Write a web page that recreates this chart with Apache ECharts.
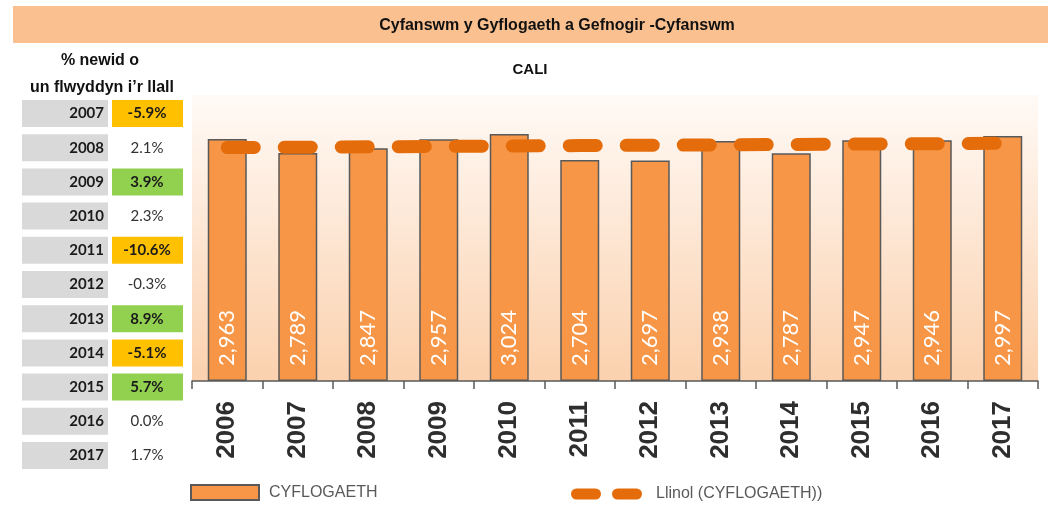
<!DOCTYPE html>
<html>
<head>
<meta charset="utf-8">
<script src="https://cdn.jsdelivr.net/npm/echarts@6/dist/echarts.min.js"></script>
<style>
    html, body { margin: 0; padding: 0; background: #fff; }
    #chart { width: 1048px; height: 505px; }
</style>
</head>
<body>
<div id="chart"></div>
<script>
// blynyddoedd a gwerthoedd y siart
var years = ['2006', '2007', '2008', '2009', '2010', '2011', '2012', '2013', '2014', '2015', '2016', '2017'];
var cyflogaeth = [2963, 2789, 2847, 2957, 3024, 2704, 2697, 2938, 2787, 2947, 2946, 2997];
// llinell duedd fel y'i darllenwyd o'r llun
var llinol = [2857, 2861, 2866, 2871, 2876, 2881, 2885, 2890, 2895, 2900, 2904, 2909];
// tabl newid canrannol
var tableYears = ['2007', '2008', '2009', '2010', '2011', '2012', '2013', '2014', '2015', '2016', '2017'];
var tablePct = [-5.9, 2.1, 3.9, 2.3, -10.6, -0.3, 8.9, -5.1, 5.7, 0.0, 1.7];

var chart = echarts.init(document.getElementById('chart'));

var fmtNum = function(v) {
    return String(v).replace(/\B(?=(\d{3})+(?!\d))/g, ',');
};

var buildTable = function() {
    var els = [];
    var top = 100, pitch = 34.2, h = 27;
    for (var i = 0; i < tableYears.length; i++) {
        var y = top + i * pitch;
        var v = tablePct[i];
        var fill = null;
        if (v <= -5) fill = '#FFC000';
        else if (v >= 3) fill = '#92D050';
        els.push({
            type: 'rect',
            shape: { x: 22, y: y, width: 86, height: h },
            style: { fill: '#D9D9D9' }
        });
        els.push({
            type: 'text',
            x: 104, y: y + h / 2,
            style: {
                text: tableYears[i], fill: '#1a1a1a',
                font: 'bold 15px Lato', align: 'right', verticalAlign: 'middle'
            }
        });
        if (fill) {
            els.push({
                type: 'rect',
                shape: { x: 112, y: y, width: 71, height: h },
                style: { fill: fill }
            });
        }
        els.push({
            type: 'text',
            x: 147, y: y + h / 2,
            style: {
                text: v.toFixed(1) + '%', fill: fill ? '#1a1a1a' : '#333',
                font: (fill ? 'bold ' : '') + '15px Lato', align: 'center', verticalAlign: 'middle'
            }
        });
    }
    return els;
};

var graphics = [{
    type: 'rect',
    z: -10,
    shape: { x: 13, y: 6, width: 1035, height: 37 },
    style: { fill: '#FAC090' }
}, {
    type: 'text',
    x: 100, y: 61,
    style: { text: '% newid o', font: 'bold 16px "Liberation Sans"', fill: '#111', align: 'center', verticalAlign: 'middle' }
}, {
    type: 'text',
    x: 102, y: 88,
    style: { text: 'un flwyddyn i\u2019r llall', font: 'bold 16px "Liberation Sans"', fill: '#111', align: 'center', verticalAlign: 'middle' }
}].concat(buildTable());

var option = {
    animation: false,
    title: [{
        text: 'Cyfanswm y Gyflogaeth a Gefnogir -Cyfanswm',
        left: 557, top: 18, textAlign: 'center', padding: 0,
        textStyle: { fontFamily: 'Liberation Sans', fontSize: 16, fontWeight: 'bold', color: '#111' }
    }, {
        text: 'CALI',
        left: 530, top: 62, textAlign: 'center', padding: 0,
        textStyle: { fontFamily: 'Liberation Sans', fontSize: 15, fontWeight: 'bold', color: '#111' }
    }],
    graphic: graphics,
    legend: [{
        left: 190, top: 484, padding: 0,
        data: [{ name: 'CYFLOGAETH', icon: 'rect' }],
        itemWidth: 68, itemHeight: 15,
        textStyle: { fontFamily: 'Liberation Sans', fontSize: 16, color: '#595959', padding: [0, 0, 0, 5] }
    }, {
        left: 571, top: 486, padding: 0,
        data: [{
            name: 'Llinol (CYFLOGAETH))',
            icon: 'path://M5.5,0 H24.5 A5.5,5.5 0 0 1 24.5,11 H5.5 A5.5,5.5 0 0 1 5.5,0 Z M46.5,0 H65.5 A5.5,5.5 0 0 1 65.5,11 H46.5 A5.5,5.5 0 0 1 46.5,0 Z'
        }],
        itemWidth: 71, itemHeight: 11,
        textStyle: { fontFamily: 'Liberation Sans', fontSize: 16, color: '#595959', padding: [0, 0, 0, 9] }
    }],
    grid: {
        left: 192, right: 10, top: 95, bottom: 124,
        show: true, borderWidth: 0,
        backgroundColor: new echarts.graphic.LinearGradient(0, 0, 0, 1, [
            { offset: 0, color: '#FFFAF6' },
            { offset: 1, color: '#FBD1AE' }
        ])
    },
    xAxis: {
        type: 'category',
        data: years,
        axisLine: { lineStyle: { color: '#595959', width: 1.5 } },
        axisTick: { show: true, length: 8, lineStyle: { color: '#595959', width: 1.5 } },
        axisLabel: {
            rotate: 90, margin: 20,
            fontFamily: 'Liberation Sans', fontSize: 26, fontWeight: 'bold', color: '#2e2e2e'
        }
    },
    yAxis: {
        type: 'value', min: 0, max: 3500, show: false,
        splitLine: { show: false }
    },
    series: [{
        name: 'CYFLOGAETH',
        type: 'bar',
        data: cyflogaeth,
        barWidth: 39,
        itemStyle: { color: '#F79646', borderColor: '#595959', borderWidth: 1.5 },
        label: {
            show: true,
            position: 'insideBottom',
            rotate: 90, align: 'left', verticalAlign: 'middle', distance: 15,
            fontFamily: 'Lato', fontSize: 22, color: '#fff',
            formatter: function(p) { return fmtNum(p.value); }
        }
    }, {
        name: 'Llinol (CYFLOGAETH))',
        type: 'line',
        data: llinol,
        symbol: 'none',
        z: 5,
        itemStyle: { color: '#E46C0A' },
        lineStyle: { color: '#E46C0A', width: 13, type: [27, 30], cap: 'round' }
    }]
};

chart.setOption(option);
</script>
</body>
</html>
